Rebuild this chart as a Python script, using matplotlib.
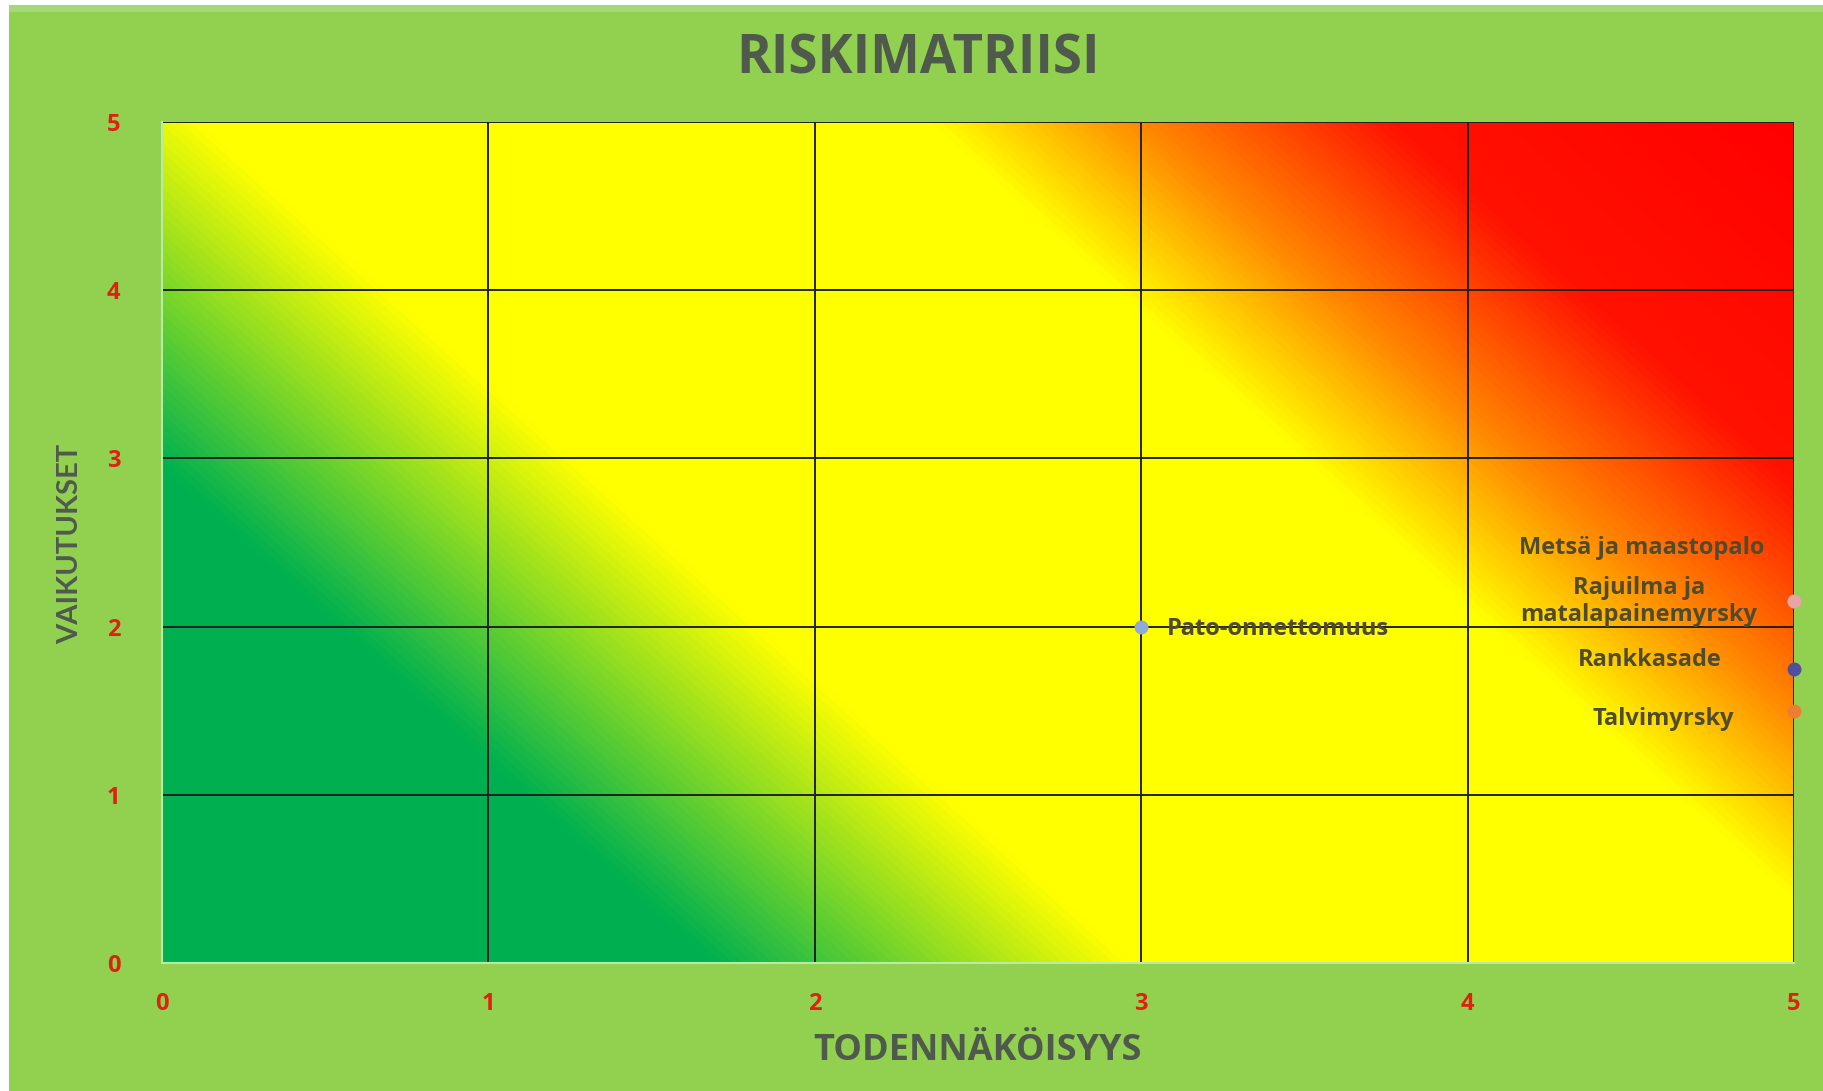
import numpy as np
import matplotlib
matplotlib.use("Agg")
import matplotlib.pyplot as plt
from matplotlib.colors import LinearSegmentedColormap
from matplotlib.patches import Rectangle

# ---- data ----
title = "RISKIMATRIISI"
xlabel = "TODENNÄKÖISYYS"
ylabel = "VAIKUTUKSET"
ticks = [0, 1, 2, 3, 4, 5]
tick_labels = ["0", "1", "2", "3", "4", "5"]

risk_names = ["Pato-onnettomuus", "Metsä ja maastopalo",
              "Rajuilma ja\nmatalapainemyrsky", "Rankkasade", "Talvimyrsky"]
probability = [3.0, 5.0, 5.0, 5.0, 5.0]
impact = [2.0, 2.15, 2.15, 1.75, 1.5]
marker_colors = ["#8FAADC", "#A5A5A5", "#E8A4A4", "#4F4F9A", "#ED7D31"]
label_offsets = [(26, -2), (-152, 53), (-155, 0), (-144, 9), (-131, -8)]
label_ha = ["left", "center", "center", "center", "center"]

BG = "#92D050"
TXT = "#4F5A4C"

W, H = 1824, 1091
fig = plt.figure(figsize=(W / 100, H / 100), dpi=100, facecolor="white")
fig.patches.append(Rectangle((9 / W, 0), 1, 1 - 5 / H, transform=fig.transFigure,
                             facecolor=BG, edgecolor="none", zorder=-10))
fig.patches.append(Rectangle((9 / W, 1 - 12 / H), 1, 7 / H, transform=fig.transFigure,
                             facecolor="#A6D87A", edgecolor="none", zorder=-9))

left, right, top, bottom = 162, 1794, 122, 963
ax = fig.add_axes([left / W, 1 - bottom / H, (right - left) / W, (bottom - top) / H])
ax.set_facecolor(BG)

# diagonal gradient in pixel space
pw, ph = right - left, bottom - top
xx, yy = np.meshgrid(np.arange(pw), np.arange(ph))
s = 0.9 * xx + (ph - yy)
t = s / s.max()
cmap = LinearSegmentedColormap.from_list("risk", [
    (0.0, "#00B050"), (0.215, "#00B050"), (0.377, "#FFFF00"),
    (0.664, "#FFFF00"), (0.745, "#FF8A00"), (0.845, "#FF1200"), (1.0, "#FF0000")])
ax.imshow(t, cmap=cmap, vmin=0, vmax=1, extent=(0, 5, 0, 5), origin="upper",
          aspect="auto", interpolation="bilinear", zorder=0)

ax.set_xlim(0, 5)
ax.set_ylim(0, 5)
for v in ticks[1:]:
    ax.axvline(v, color="#222222", lw=1.4, zorder=1)
    ax.axhline(v, color="#222222", lw=1.4, zorder=1)
for sp in ["top", "right"]:
    ax.spines[sp].set_visible(False)
for sp in ["left", "bottom"]:
    ax.spines[sp].set_color("#B8EBA8")
    ax.spines[sp].set_linewidth(1.5)

ax.set_xticks(ticks)
ax.set_yticks(ticks)
ax.set_xticklabels(tick_labels)
ax.set_yticklabels(tick_labels)
ax.tick_params(length=0, colors="#E02010", labelsize=17)
ax.tick_params(axis="x", pad=21)
ax.tick_params(axis="y", pad=30)
for lab in ax.get_xticklabels() + ax.get_yticklabels():
    lab.set_fontfamily("Open Sans")
    lab.set_fontweight("bold")

for i, name in enumerate(risk_names):
    ax.plot(probability[i], impact[i], "o", color=marker_colors[i], ms=9,
            clip_on=False, zorder=3)
    ax.annotate(name, (probability[i], impact[i]), xytext=label_offsets[i],
                textcoords="offset pixels", ha=label_ha[i], va="center",
                fontsize=17, fontweight="bold", family="Open Sans", color="#4E4C2C",
                linespacing=1.2, zorder=4)

fig.text(918 / W, 1 - 59 / H, title, ha="center", va="center", fontsize=38,
         fontweight="bold", family="Open Sans", color=TXT)
fig.text(977 / W, 1 - 1051 / H, xlabel, ha="center", va="center", fontsize=26,
         fontweight="bold", family="Open Sans", color=TXT)
fig.text(70 / W, 1 - 544 / H, ylabel, ha="center", va="center", fontsize=21,
         fontweight="bold", family="Lato", color=TXT, rotation=90)

fig.savefig("out.png", dpi=100, facecolor="white")
